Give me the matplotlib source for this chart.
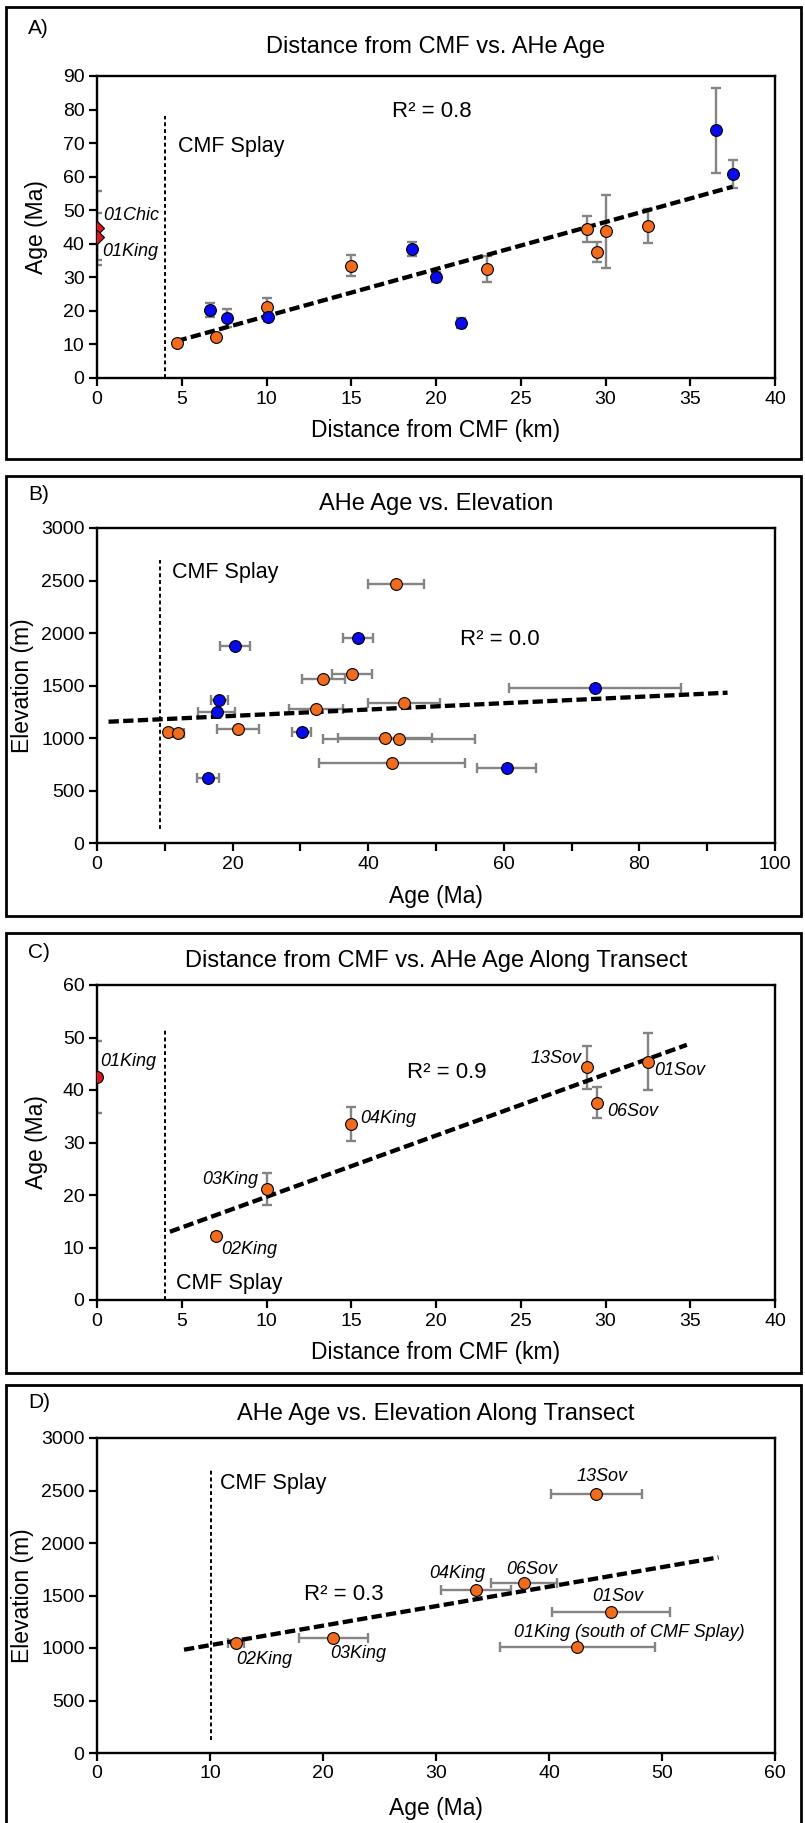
import matplotlib
matplotlib.use("Agg")
import matplotlib.pyplot as plt
from matplotlib.patches import Rectangle

plt.rcParams['font.family'] = ['Liberation Sans', 'DejaVu Sans']

# ---------------- DATA ----------------
# Panel A: distance from CMF (km) vs AHe age (Ma)
A_orange_x = [4.7, 7.0, 10.0, 15.0, 23.0, 28.9, 29.5, 30.0, 32.5]
A_orange_y = [10.5, 12.1, 21.1, 33.5, 32.5, 44.3, 37.6, 43.7, 45.4]
A_orange_err = [0.0, 0.0, 2.7, 3.2, 4.0, 3.9, 3.0, 10.8, 5.1]
A_blue_x = [6.65, 7.65, 10.1, 18.6, 20.0, 21.5, 36.5, 37.5]
A_blue_y = [20.3, 17.8, 18.1, 38.5, 30.2, 16.3, 73.8, 60.8]
A_blue_err = [2.1, 2.7, 1.2, 2.1, 1.5, 1.5, 12.7, 4.3]
A_red_x = [0.0, 0.0]
A_red_y = [44.6, 42.1]
A_red_err = [11.0, 7.0]
A_red_labels = ['01Chic', '01King']
A_fit_x = [4.7, 37.5]
A_fit_y = [11.0, 57.0]
A_splay_x = 4.0
A_splay_y = [0, 78]
A_r2 = 'R² = 0.8'

# Panel B: AHe age (Ma) vs elevation (m)
B_orange_age = [44.1, 37.6, 33.4, 32.3, 45.3, 10.4, 12.0, 20.75, 42.5, 44.5, 43.5]
B_orange_elev = [2467, 1611, 1561, 1276, 1333, 1063, 1047, 1088, 1006, 993, 768]
B_orange_err = [4.1, 3.0, 3.2, 4.0, 5.3, 0.0, 0.8, 3.1, 6.9, 11.2, 10.8]
B_blue_age = [20.3, 38.5, 18.0, 17.65, 30.2, 16.4, 73.4, 60.4]
B_blue_elev = [1880, 1950, 1364, 1247, 1063, 626, 1475, 715]
B_blue_err = [2.2, 2.15, 1.25, 2.75, 1.4, 1.6, 12.7, 4.4]
B_fit_x = [1.7, 93.0]
B_fit_y = [1158, 1434]
B_splay_x = 9.3
B_splay_y = [135, 2695]
B_r2 = 'R² = 0.0'

# Panel C: distance vs age along transect
C_labels = ['02King', '03King', '04King', '13Sov', '06Sov', '01Sov']
C_x = [7.0, 10.0, 15.0, 28.9, 29.5, 32.5]
C_y = [12.2, 21.1, 33.5, 44.3, 37.6, 45.4]
C_err = [0.6, 3.0, 3.2, 4.15, 3.0, 5.4]
C_red_x = [0.0]
C_red_y = [42.5]
C_red_err = [6.9]
C_red_labels = ['01King']
C_fit_x = [4.3, 34.8]
C_fit_y = [13.0, 48.6]
C_splay_x = 4.0
C_splay_y = [0, 51.4]
C_r2 = 'R² = 0.9'

# Panel D: age vs elevation along transect
D_labels = ['02King', '03King', '04King', '06Sov', '13Sov', '01Sov',
            '01King (south of CMF Splay)']
D_age = [12.3, 20.9, 33.5, 37.8, 44.2, 45.5, 42.5]
D_elev = [1048, 1095, 1555, 1619, 2470, 1339, 1006]
D_err = [0.75, 3.05, 3.1, 2.95, 4.0, 5.25, 6.85]
D_fit_x = [7.7, 55.0]
D_fit_y = [984, 1863]
D_splay_x = 10.1
D_splay_y = [127, 2692]
D_r2 = 'R² = 0.3'

# ---------------- STYLE ----------------
W, H = 805, 1823
ORANGE = '#F26C1E'
BLUE = '#0A0AEE'
RED = '#D9181E'
GRAY = '#848484'
MS = 8.5

fig = plt.figure(figsize=(W / 100, H / 100), dpi=100)


def fx(px):
    return px / W


def fy(py):
    return 1 - py / H


def make_axes(top, bottom, left=97, right=775):
    return fig.add_axes([fx(left), fy(bottom), (right - left) / W, (bottom - top) / H])


def style_axes(ax):
    for s in ax.spines.values():
        s.set_linewidth(1.7)
        s.set_color('black')
    ax.tick_params(direction='out', length=6, width=1.6, labelsize=14, pad=3,
                   colors='black')
    ax.tick_params(which='minor', direction='out', length=6, width=1.6)


def errbars(ax, x, y, err, horizontal=False):
    if horizontal:
        ax.errorbar(x, y, xerr=err, fmt='none', ecolor=GRAY, elinewidth=1.7,
                    capsize=3.6, capthick=1.7, zorder=2)
    else:
        ax.errorbar(x, y, yerr=err, fmt='none', ecolor=GRAY, elinewidth=1.7,
                    capsize=3.6, capthick=1.7, zorder=2)


def points(ax, x, y, color, marker='o', ms=MS):
    ax.plot(x, y, linestyle='none', marker=marker, ms=ms, mfc=color,
            mec='black', mew=0.8, zorder=4)


def fit(ax, x, y):
    ax.plot(x, y, color='black', lw=3.1, linestyle=(0, (2.4, 1.0)), zorder=3)


def splay(ax, x, y):
    ax.plot([x, x], y, color='black', lw=1.4, linestyle=(0, (2.0, 1.5)), zorder=3)


def panel_box(top, bottom):
    fig.patches.append(Rectangle((fx(6), fy(bottom)), (801 - 6) / W, (bottom - top) / H,
                                 transform=fig.transFigure, fill=False,
                                 edgecolor='black', linewidth=2.0))


def ylab(text, x, top, bottom):
    fig.text(fx(x), fy((top + bottom) / 2), text, fontsize=16.5, rotation=90,
             ha='center', va='center')


# ---------------- PANEL A ----------------
panel_box(7, 459)
axA = make_axes(76, 378)
style_axes(axA)
axA.set_xlim(0, 40)
axA.set_ylim(0, 90)
axA.set_xticks(range(0, 41, 5))
axA.set_yticks(range(0, 91, 10))
errbars(axA, A_red_x, A_red_y, A_red_err)
errbars(axA, A_orange_x, A_orange_y, A_orange_err)
errbars(axA, A_blue_x, A_blue_y, A_blue_err)
fit(axA, A_fit_x, A_fit_y)
splay(axA, A_splay_x, A_splay_y)
points(axA, A_red_x, A_red_y, RED, marker='D', ms=7)
points(axA, A_orange_x, A_orange_y, ORANGE)
points(axA, A_blue_x, A_blue_y, BLUE)
axA.text(0.35, 48.3, A_red_labels[0], fontsize=13, style='italic', ha='left', va='center')
axA.text(0.3, 37.8, A_red_labels[1], fontsize=13, style='italic', ha='left', va='center')
axA.text(4.75, 69.1, 'CMF Splay', fontsize=15.5, ha='left', va='center')
axA.text(17.4, 79.4, A_r2, fontsize=16, ha='left', va='center')
fig.text(fx(28), fy(28), 'A)', fontsize=15, ha='left', va='center')
fig.text(fx(436), fy(47), 'Distance from CMF vs. AHe Age', fontsize=17, ha='center', va='center')
fig.text(fx(436), fy(430), 'Distance from CMF (km)', fontsize=16.5, ha='center', va='center')
ylab('Age (Ma)', 37, 76, 378)

# ---------------- PANEL B ----------------
panel_box(476, 916)
axB = make_axes(528, 843.5)
style_axes(axB)
axB.set_xlim(0, 100)
axB.set_ylim(0, 3000)
axB.set_xticks(range(0, 101, 20))
axB.set_xticks(range(10, 100, 20), minor=True)
axB.set_yticks(range(0, 3001, 500))
errbars(axB, B_orange_age, B_orange_elev, B_orange_err, horizontal=True)
errbars(axB, B_blue_age, B_blue_elev, B_blue_err, horizontal=True)
fit(axB, B_fit_x, B_fit_y)
splay(axB, B_splay_x, B_splay_y)
points(axB, B_orange_age, B_orange_elev, ORANGE)
points(axB, B_blue_age, B_blue_elev, BLUE)
axB.text(11.0, 2578, 'CMF Splay', fontsize=15.5, ha='left', va='center')
axB.text(53.6, 1944, B_r2, fontsize=16, ha='left', va='center')
fig.text(fx(28), fy(495), 'B)', fontsize=15, ha='left', va='center')
fig.text(fx(436), fy(504), 'AHe Age vs. Elevation', fontsize=17, ha='center', va='center')
fig.text(fx(436), fy(897), 'Age (Ma)', fontsize=16.5, ha='center', va='center')
ylab('Elevation (m)', 22, 528, 843.5)

# ---------------- PANEL C ----------------
panel_box(933, 1373)
axC = make_axes(985, 1300)
style_axes(axC)
axC.set_xlim(0, 40)
axC.set_ylim(0, 60)
axC.set_xticks(range(0, 41, 5))
axC.set_yticks(range(0, 61, 10))
errbars(axC, C_red_x, C_red_y, C_red_err)
errbars(axC, C_x, C_y, C_err)
fit(axC, C_fit_x, C_fit_y)
splay(axC, C_splay_x, C_splay_y)
points(axC, C_red_x, C_red_y, RED)
points(axC, C_x, C_y, ORANGE)
c_pos = {'02King': (7.3, 9.65, 'left'), '03King': (9.5, 23.0, 'right'),
         '04King': (15.5, 34.6, 'left'), '13Sov': (28.6, 46.0, 'right'),
         '06Sov': (30.1, 35.9, 'left'), '01Sov': (32.9, 43.8, 'left')}
for lab in C_labels:
    px, py, ha = c_pos[lab]
    axC.text(px, py, lab, fontsize=13, style='italic', ha=ha, va='center')
axC.text(0.2, 45.4, C_red_labels[0], fontsize=13, style='italic', ha='left', va='center')
axC.text(4.66, 3.2, 'CMF Splay', fontsize=15.5, ha='left', va='center')
axC.text(18.3, 43.3, C_r2, fontsize=16, ha='left', va='center')
fig.text(fx(28), fy(952), 'C)', fontsize=15, ha='left', va='center')
fig.text(fx(436), fy(961), 'Distance from CMF vs. AHe Age Along Transect', fontsize=17,
         ha='center', va='center')
fig.text(fx(436), fy(1352), 'Distance from CMF (km)', fontsize=16.5, ha='center', va='center')
ylab('Age (Ma)', 37, 985, 1300)

# ---------------- PANEL D ----------------
panel_box(1385, 1830)
axD = make_axes(1438, 1753)
style_axes(axD)
axD.set_xlim(0, 60)
axD.set_ylim(0, 3000)
axD.set_xticks(range(0, 61, 10))
axD.set_yticks(range(0, 3001, 500))
errbars(axD, D_age, D_elev, D_err, horizontal=True)
fit(axD, D_fit_x, D_fit_y)
splay(axD, D_splay_x, D_splay_y)
points(axD, D_age, D_elev, ORANGE)
d_pos = {'02King': (12.3, 889, 'left'), '03King': (20.6, 952, 'left'),
         '04King': (31.9, 1708, 'center'), '06Sov': (38.5, 1752, 'center'),
         '13Sov': (44.7, 2634, 'center'), '01Sov': (46.1, 1492, 'center'),
         '01King (south of CMF Splay)': (36.9, 1143, 'left')}
for lab in D_labels:
    px, py, ha = d_pos[lab]
    axD.text(px, py, lab, fontsize=13, style='italic', ha=ha, va='center')
axD.text(10.9, 2571, 'CMF Splay', fontsize=15.5, ha='left', va='center')
axD.text(18.3, 1508, D_r2, fontsize=16, ha='left', va='center')
fig.text(fx(28), fy(1403), 'D)', fontsize=15, ha='left', va='center')
fig.text(fx(436), fy(1414), 'AHe Age vs. Elevation Along Transect', fontsize=17,
         ha='center', va='center')
fig.text(fx(436), fy(1808), 'Age (Ma)', fontsize=16.5, ha='center', va='center')
ylab('Elevation (m)', 22, 1438, 1753)

fig.savefig('out.png', dpi=100, facecolor='white')
